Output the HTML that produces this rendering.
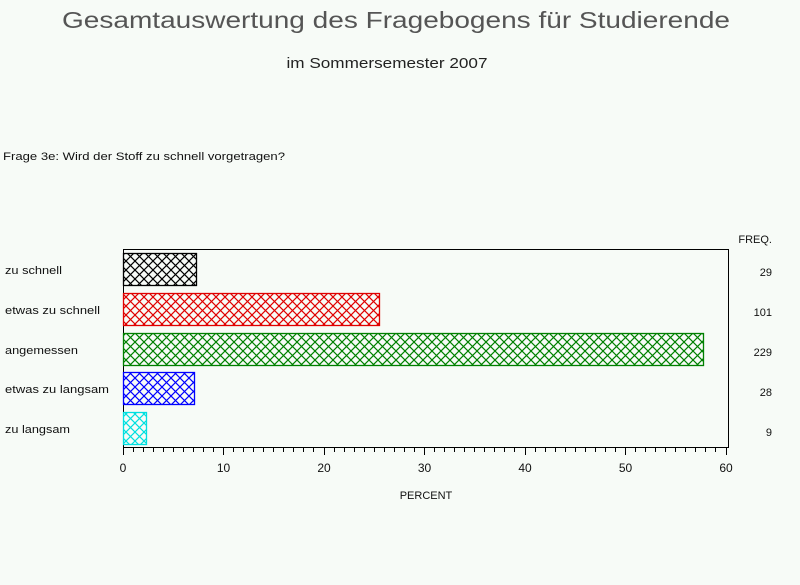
<!DOCTYPE html>
<html><head><meta charset="utf-8"><style>
html,body{margin:0;padding:0;background:#f7fbf7;}
svg{display:block;font-family:"Liberation Sans",sans-serif;}
</style></head><body>
<svg width="800" height="585" viewBox="0 0 800 585" xmlns="http://www.w3.org/2000/svg">
<defs>
<pattern id="pk" width="9" height="9" patternUnits="userSpaceOnUse"><path d="M0 0L9 9M9 0L0 9" stroke="#000" stroke-width="1.2"/></pattern>
<pattern id="pr" width="9" height="9" patternUnits="userSpaceOnUse"><path d="M0 0L9 9M9 0L0 9" stroke="#e00000" stroke-width="1.2"/></pattern>
<pattern id="pg" width="9" height="9" patternUnits="userSpaceOnUse"><path d="M0 0L9 9M9 0L0 9" stroke="#008000" stroke-width="1.2"/></pattern>
<pattern id="pb" width="9" height="9" patternUnits="userSpaceOnUse"><path d="M0 0L9 9M9 0L0 9" stroke="#0000ff" stroke-width="1.2"/></pattern>
<pattern id="pc" width="9" height="9" patternUnits="userSpaceOnUse"><path d="M0 0L9 9M9 0L0 9" stroke="#00e0e0" stroke-width="1.2"/></pattern>
</defs>
<rect width="800" height="585" fill="#f7fbf7"/>
<text x="396" y="28" font-size="23" text-anchor="middle" textLength="668" lengthAdjust="spacingAndGlyphs" fill="#555">Gesamtauswertung des Fragebogens für Studierende</text>
<text x="387" y="68" font-size="15" text-anchor="middle" textLength="201" lengthAdjust="spacingAndGlyphs" fill="#222">im Sommersemester 2007</text>
<text x="3" y="160" font-size="11" textLength="282" lengthAdjust="spacingAndGlyphs" fill="#111">Frage 3e: Wird der Stoff zu schnell vorgetragen?</text>
<rect x="123.5" y="249.5" width="605" height="198" fill="none" stroke="#000" stroke-width="1"/>
<g stroke-width="1.3">
<rect x="123.5" y="253.5" width="73" height="32" fill="url(#pk)" stroke="#000"/>
<rect x="123.5" y="293.5" width="256" height="32" fill="url(#pr)" stroke="#e00000"/>
<rect x="123.5" y="333.5" width="580" height="32" fill="url(#pg)" stroke="#008000"/>
<rect x="123.5" y="372.5" width="71" height="32" fill="url(#pb)" stroke="#0000ff"/>
<rect x="123.5" y="412.5" width="23" height="32" fill="url(#pc)" stroke="#00e0e0"/>
</g>
<g font-size="11" fill="#111">
<text x="5" y="274" textLength="57" lengthAdjust="spacingAndGlyphs">zu schnell</text>
<text x="5" y="314" textLength="95" lengthAdjust="spacingAndGlyphs">etwas zu schnell</text>
<text x="5" y="354" textLength="73" lengthAdjust="spacingAndGlyphs">angemessen</text>
<text x="5" y="393" textLength="104" lengthAdjust="spacingAndGlyphs">etwas zu langsam</text>
<text x="5" y="433" textLength="65" lengthAdjust="spacingAndGlyphs">zu langsam</text>
</g>
<g font-size="11" fill="#111" text-anchor="end">
<text x="772" y="243">FREQ.</text>
<text x="772" y="276">29</text>
<text x="772" y="316">101</text>
<text x="772" y="356">229</text>
<text x="772" y="396">28</text>
<text x="772" y="436">9</text>
</g>
<g font-size="12" fill="#111" text-anchor="middle">
<text x="123" y="472">0</text>
<text x="223.5" y="472">10</text>
<text x="324" y="472">20</text>
<text x="424.5" y="472">30</text>
<text x="525" y="472">40</text>
<text x="625.5" y="472">50</text>
<text x="726" y="472">60</text>
<text x="426" y="499" font-size="11">PERCENT</text>
</g>
<path stroke="#000" stroke-width="1" fill="none" d="
M123.5 448v7 M133.5 448v4 M143.5 448v4 M153.5 448v4 M163.5 448v4 M173.5 448v4 M183.5 448v4 M193.5 448v4 M203.5 448v4 M213.5 448v4
M223.5 448v7 M233.5 448v4 M243.5 448v4 M253.5 448v4 M263.5 448v4 M273.5 448v4 M283.5 448v4 M293.5 448v4 M303.5 448v4 M313.5 448v4
M324.5 448v7 M334.5 448v4 M344.5 448v4 M354.5 448v4 M364.5 448v4 M374.5 448v4 M384.5 448v4 M394.5 448v4 M404.5 448v4 M414.5 448v4
M424.5 448v7 M434.5 448v4 M444.5 448v4 M454.5 448v4 M464.5 448v4 M474.5 448v4 M484.5 448v4 M494.5 448v4 M504.5 448v4 M514.5 448v4
M525.5 448v7 M535.5 448v4 M545.5 448v4 M555.5 448v4 M565.5 448v4 M575.5 448v4 M585.5 448v4 M595.5 448v4 M605.5 448v4 M615.5 448v4
M625.5 448v7 M635.5 448v4 M645.5 448v4 M655.5 448v4 M665.5 448v4 M675.5 448v4 M685.5 448v4 M695.5 448v4 M705.5 448v4 M715.5 448v4
M726.5 448v7"/>
</svg>
</body></html>
